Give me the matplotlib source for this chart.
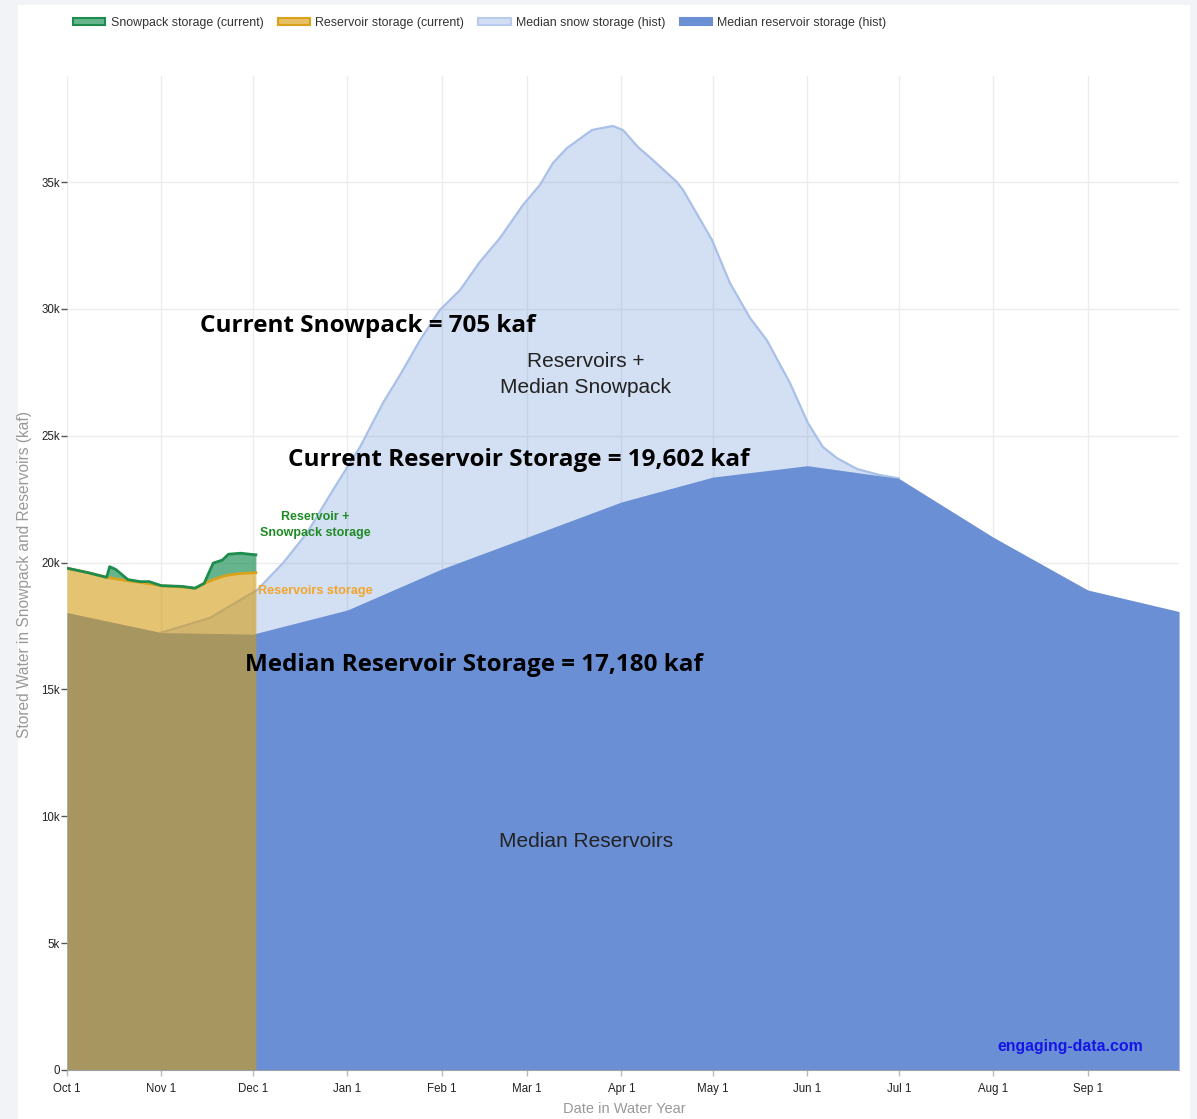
import matplotlib.pyplot as plt
from matplotlib.patches import Patch, Rectangle
import numpy as np

# day of water year (0 = Oct 1)
month_days = [0, 31, 61, 92, 123, 151, 182, 212, 243, 273, 304, 335]
month_labels = ['Oct 1', 'Nov 1', 'Dec 1', 'Jan 1', 'Feb 1', 'Mar 1',
                'Apr 1', 'May 1', 'Jun 1', 'Jul 1', 'Aug 1', 'Sep 1']

# median reservoir storage (hist), kaf
res_med_days = [0, 31, 61, 92, 123, 151, 182, 212, 243, 273, 304, 335, 365]
res_med_kaf = [18030, 17240, 17180, 18130, 19750, 21000, 22390, 23370,
               23820, 23320, 21000, 18920, 18070]

# reservoirs + median snowpack (hist), kaf
top_med_days = [0, 31, 46.9, 62.4, 70.9, 78.8, 87.3, 96.2, 103.7, 109.3, 115.9,
                122.4, 129.0, 135.5, 142.1, 149.7, 155.2, 159.5, 164.1, 172.3,
                175.6, 179.2, 182.5, 187.4, 192.3, 200.2, 202.2, 211.7, 217.6,
                224.2, 229.7, 237.3, 243.2, 248.1, 252.7, 259.3, 266.8, 272.4,
                273, 304, 335, 365]
top_med_kaf = [18030, 17240, 17820, 18920, 19980, 21170, 22860, 24560, 26290,
               27390, 28770, 29960, 30740, 31850, 32790, 34100, 34880, 35750,
               36340, 37050, 37130, 37210, 37050, 36380, 35870, 35000, 34690,
               32720, 31020, 29640, 28770, 27080, 25500, 24560, 24120, 23690,
               23450, 23330, 23320, 21000, 18920, 18070]

# current water year
cur_days = [0, 7, 13, 14, 16, 20, 24, 27, 31, 36, 38, 42, 45, 48, 51, 53, 57, 60, 62]
cur_res_kaf = [19780, 19600, 19420, 19400, 19360, 19280, 19220, 19170, 19090,
               19050, 19030, 18990, 19180, 19330, 19450, 19510, 19570, 19590, 19602]
cur_snow_kaf = [0, 0, 0, 440, 370, 50, 30, 80, 0, 20, 30, 0, 0, 650, 650,
                820, 800, 740, 705]

c_green = (20/255, 140/255, 80/255)
c_gold = (210/255, 155/255, 20/255)
c_light = (110/255, 150/255, 215/255)
c_dark = '#6a8fd4'

fig = plt.figure(figsize=(11.97, 11.19), dpi=100)
fig.patch.set_facecolor('#f1f3f6')
fig.patches.append(Rectangle((18/1197, 0), (1190-18)/1197, 1-5/1119,
                             transform=fig.transFigure, facecolor='white',
                             edgecolor='none', zorder=-5))

ax = fig.add_axes([67/1197, 49/1119, (1179-67)/1197, (1070-76)/1119])
ax.set_facecolor('none')
ax.set_zorder(2)

ax.fill_between(top_med_days, 0, top_med_kaf, color=c_light, alpha=0.3,
                linewidth=0, zorder=2)
n_snow = top_med_days.index(273)
ax.plot(top_med_days[1:n_snow+1], top_med_kaf[1:n_snow+1], color='#a9c0e8',
        linewidth=1.6, zorder=2.1)
ax.fill_between(res_med_days, 0, res_med_kaf, color=c_dark, linewidth=0, zorder=3)

cur_res = np.array(cur_res_kaf)
cur_tot = cur_res + np.array(cur_snow_kaf)
ax.fill_between(cur_days, 0, cur_res, color=c_gold, alpha=0.6, linewidth=0, zorder=4)
ax.plot(cur_days, cur_res, color='#d9a21b', linewidth=2, zorder=5)
ax.fill_between(cur_days, cur_res, cur_tot, color=c_green, alpha=0.65,
                linewidth=0, zorder=4)
ax.plot(cur_days, cur_tot, color='#1e8c4e', linewidth=2, zorder=6)

ax.set_xlim(0, 365)
ax.set_ylim(0, 39180)
ax.set_xticks(month_days)
ax.set_xticklabels(month_labels)
yt = list(range(0, 36000, 5000))
ax.set_yticks(yt)
ax.set_yticklabels(['0'] + ['%dk' % (v // 1000) for v in yt[1:]])
ax.grid(True, color='#ececec', linewidth=1, zorder=1)
ax.set_axisbelow(True)
for s in ['top', 'right', 'left']:
    ax.spines[s].set_visible(False)
ax.spines['bottom'].set_color('#9aa0a8')
ax.spines['bottom'].set_zorder(7)
ax.tick_params(axis='y', length=4, width=1, color='#555555', pad=1,
               labelsize=8.3, labelcolor='#222222')
ax.tick_params(axis='x', length=4, width=1, color='#bbbbbb', pad=5.5,
               labelsize=8.3, labelcolor='#222222')
for lab in ax.get_xticklabels() + ax.get_yticklabels():
    lab.set_fontfamily('Liberation Sans')

fig.text(25/1197, 1 - 574/1119, 'Stored Water in Snowpack and Reservoirs (kaf)',
         rotation=90, ha='center', va='center', fontsize=11.2, color='#999999',
         family='Liberation Sans')
fig.text(624/1197, 1 - 1109/1119, 'Date in Water Year', ha='center', va='center',
         fontsize=10.5, color='#999999', family='Liberation Sans')

bold = dict(family='Open Sans', fontweight='bold', color='black', fontsize=17.5,
            zorder=8)
ax.text(43.6, 29320, 'Current Snowpack = 705 kaf', ha='left', va='center', **bold)
ax.text(72.5, 24040, 'Current Reservoir Storage = 19,602 kaf', ha='left',
        va='center', **bold)
ax.text(58.4, 15960, 'Median Reservoir Storage = 17,180 kaf', ha='left',
        va='center', **bold)
ax.text(170.3, 27420, 'Reservoirs +\nMedian Snowpack', ha='center', va='center',
        multialignment='center', fontsize=15, color='#222222',
        family='Liberation Sans', linespacing=1.45, zorder=8)
ax.text(170.3, 8990, 'Median Reservoirs', ha='center', va='center', fontsize=15,
        color='#222222', family='Liberation Sans', zorder=8)
ax.text(81.4, 21480, 'Reservoir +\nSnowpack storage', ha='center', va='center',
        multialignment='center', fontsize=9, color='#1f8b24', fontweight='bold',
        family='Liberation Sans', linespacing=1.4, zorder=8)
ax.text(62.7, 18880, 'Reservoirs storage', ha='left', va='center', fontsize=9.1,
        color='#f2a52a', fontweight='bold', family='Liberation Sans', zorder=8)
ax.text(353.1, 907, 'engaging-data.com', ha='right', va='center', fontsize=11.4,
        color='#1515e6', fontweight='bold', family='Liberation Sans', zorder=8)

handles = [
    Patch(facecolor=(0.4, 0.71, 0.55), edgecolor='#1e8c4e', linewidth=1.5,
          label='Snowpack storage (current)'),
    Patch(facecolor=(0.9, 0.75, 0.4), edgecolor='#d9a21b', linewidth=1.5,
          label='Reservoir storage (current)'),
    Patch(facecolor='#d2def3', edgecolor='#b8cbeb', linewidth=1.5,
          label='Median snow storage (hist)'),
    Patch(facecolor=c_dark, edgecolor=c_dark, linewidth=1.5,
          label='Median reservoir storage (hist)'),
]
fig.legend(handles=handles, loc='center left', bbox_to_anchor=(73/1197, 1 - 23/1119),
           ncol=4, frameon=False, handlelength=2.6, handleheight=0.45,
           handletextpad=0.45, columnspacing=1.15, borderaxespad=0, borderpad=0,
           prop={'family': 'Liberation Sans', 'size': 8.9}, labelcolor='#333333')

fig.savefig('out.png', dpi=100, facecolor=fig.get_facecolor())
